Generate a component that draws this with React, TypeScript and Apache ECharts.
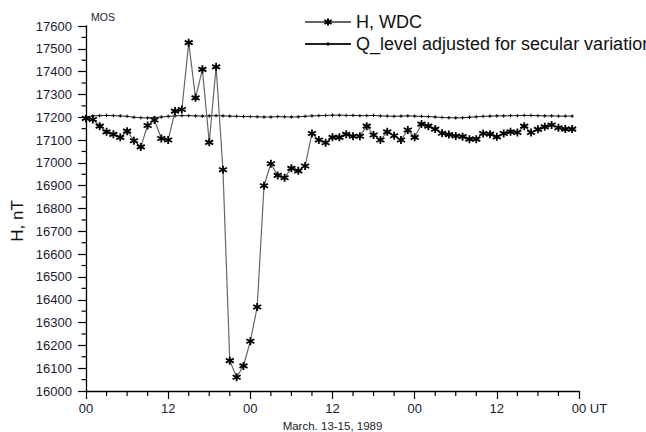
import React, { useEffect, useRef } from "react";
import * as echarts from "echarts";

// Hourly values, March 13-15, 1989 (hour index 0..71)
const hWdc = [
  17195, 17190, 17161, 17136, 17125, 17112, 17139, 17097, 17070, 17164,
  17188, 17107, 17100, 17227, 17234, 17527, 17285, 17410, 17090, 17421,
  16970, 16133, 16060, 16110, 16218, 16368, 16900, 16996, 16945, 16935,
  16976, 16965, 16986, 17129, 17100, 17088, 17112, 17112, 17125, 17117,
  17117, 17161, 17122, 17100, 17136, 17119, 17100, 17144, 17112, 17170,
  17161, 17148, 17130, 17124, 17118, 17115, 17104, 17104, 17129, 17126,
  17114, 17129, 17136, 17133, 17161, 17133, 17147, 17158, 17166, 17154,
  17148, 17148,
];

const qLevel = [
  17200, 17206, 17207, 17208, 17207, 17206, 17204, 17200, 17198, 17197,
  17199, 17201, 17204, 17206, 17207, 17207, 17206, 17205, 17206, 17207,
  17206, 17205, 17204, 17203, 17203, 17202, 17201, 17201, 17203, 17202,
  17201, 17202, 17204, 17206, 17207, 17208, 17209, 17209, 17208, 17208,
  17207, 17207, 17208, 17206, 17205, 17204, 17205, 17206, 17205, 17204,
  17203, 17201, 17199, 17198, 17197, 17198, 17200, 17202, 17204, 17205,
  17206, 17206, 17207, 17207, 17208, 17208, 17207, 17206, 17206, 17205,
  17205, 17205,
];

const xTickLabels: Record<number, string> = {
  0: "00",
  12: "12",
  24: "00",
  36: "12",
  48: "00",
  60: "12",
  72: "{pad|}00 UT",
};

// minor tick positions (hours, nT)
const xMinorTicks = [
  3, 6, 9, 15, 18, 21, 27, 30, 33, 39, 42, 45, 51, 54, 57, 63, 66, 69,
];
const yMinorTicks = [
  16050, 16150, 16250, 16350, 16450, 16550, 16650, 16750,
  16850, 16950, 17050, 17150, 17250, 17350, 17450, 17550,
];

const seriesNames = ["H, WDC", "Q_level adjusted for secular variation"];
const xAxisTitle = "March. 13-15, 1989";
const yAxisTitle = "H, nT";
const stationLabel = "MOS";

const FONT = "'Liberation Sans', Arial, Helvetica, sans-serif";
const starPath = "path://M0,-5L0,5M-4.33,-2.5L4.33,2.5M-4.33,2.5L4.33,-2.5";
const plusPath = "path://M0,-3L0,3M-3,0L3,0";

const GRID = { left: 86, right: 67, top: 26, bottom: 41 };
const X_MIN = 0;
const Y_MIN = 16000;

export default function App() {
  const ref = useRef<HTMLDivElement>(null);
  useEffect(() => {
    document.body.style.margin = "0";
    if (!ref.current) return;
    const chart = echarts.init(ref.current, null, { renderer: "svg" });
    const toPairs = (arr: number[]) => arr.map((v, i) => [i, v]);
    const tickStyle = { color: "#000", width: 1.2 };
    const legendText = { fontSize: 18, color: "#111", fontFamily: FONT };
    chart.setOption({
      animation: false,
      backgroundColor: "#ffffff",
      textStyle: { fontFamily: FONT },
      grid: { ...GRID, containLabel: false, outerBoundsMode: "none" },
      legend: [
        {
          orient: "vertical",
          left: 299,
          top: 8,
          itemWidth: 46,
          itemHeight: 9,
          textStyle: legendText,
          data: [seriesNames[0]],
        },
        {
          orient: "vertical",
          left: 299,
          top: 30,
          itemWidth: 46,
          itemHeight: 4,
          textStyle: legendText,
          data: [seriesNames[1]],
        },
      ],
      xAxis: {
        type: "value",
        min: X_MIN,
        max: 72,
        interval: 12,
        position: "bottom",
        name: xAxisTitle,
        nameLocation: "middle",
        nameGap: 28,
        nameTextStyle: { fontSize: 11.5, color: "#222", fontFamily: FONT },
        axisLine: { onZero: false, lineStyle: { color: "#000", width: 1.3 } },
        axisTick: { show: true, length: 8, lineStyle: tickStyle },
        splitLine: { show: false },
        axisLabel: {
          margin: 11,
          fontSize: 13,
          color: "#1a1a33",
          fontFamily: FONT,
          formatter: (v: number) => xTickLabels[v] ?? "",
          rich: { pad: { width: 21 } },
        },
      },
      yAxis: {
        type: "value",
        min: Y_MIN,
        max: 17600,
        interval: 100,
        position: "left",
        axisLine: { show: true, onZero: false, lineStyle: { color: "#000", width: 1.3 } },
        axisTick: { show: true, length: 8, lineStyle: tickStyle },
        splitLine: { show: false },
        axisLabel: {
          margin: 14,
          fontSize: 13,
          color: "#1a1a33",
          fontFamily: FONT,
          formatter: (v: number) => String(v),
        },
      },
      graphic: [
        {
          type: "text",
          x: 17,
          y: 221,
          rotation: Math.PI / 2,
          style: {
            text: yAxisTitle,
            fontSize: 17,
            fontFamily: FONT,
            fill: "#111",
            align: "center",
            verticalAlign: "middle",
          },
        },
        {
          type: "text",
          x: 91,
          y: 17,
          style: {
            text: stationLabel,
            fontSize: 10.5,
            fontFamily: FONT,
            fill: "#1a1a33",
            align: "left",
            verticalAlign: "middle",
          },
        },
      ],
      series: [
        {
          name: seriesNames[0],
          type: "line",
          data: toPairs(hWdc),
          symbol: starPath,
          symbolSize: 8,
          showAllSymbol: true,
          lineStyle: { color: "#666", width: 1.2 },
          itemStyle: { color: "#000", borderColor: "#000", borderWidth: 1.8 },
          z: 3,
        },
        {
          name: seriesNames[1],
          type: "line",
          data: toPairs(qLevel),
          symbol: plusPath,
          symbolSize: 3.5,
          showAllSymbol: true,
          lineStyle: { color: "#222", width: 1 },
          itemStyle: { color: "#000", borderColor: "#000", borderWidth: 1 },
          z: 2,
        },
        {
          // minor ticks on the time axis
          name: "x-minor-ticks",
          type: "custom",
          clip: false,
          silent: true,
          data: xMinorTicks.map((t) => [t, Y_MIN]),
          renderItem: (_params: any, api: any) => {
            const p = api.coord([api.value(0), api.value(1)]);
            return {
              type: "line",
              shape: { x1: p[0], y1: p[1], x2: p[0], y2: p[1] + 5 },
              style: { stroke: "#000", lineWidth: 1.2 },
            };
          },
          z: 5,
        },
        {
          // minor ticks on the H axis
          name: "y-minor-ticks",
          type: "custom",
          clip: false,
          silent: true,
          data: yMinorTicks.map((v) => [X_MIN, v]),
          renderItem: (_params: any, api: any) => {
            const p = api.coord([api.value(0), api.value(1)]);
            return {
              type: "line",
              shape: { x1: p[0] - 4.5, y1: p[1], x2: p[0], y2: p[1] },
              style: { stroke: "#000", lineWidth: 1.2 },
            };
          },
          z: 5,
        },
      ],
    });
    return () => chart.dispose();
  }, []);
  return <div ref={ref} style={{ width: 646, height: 432 }} />;
}
